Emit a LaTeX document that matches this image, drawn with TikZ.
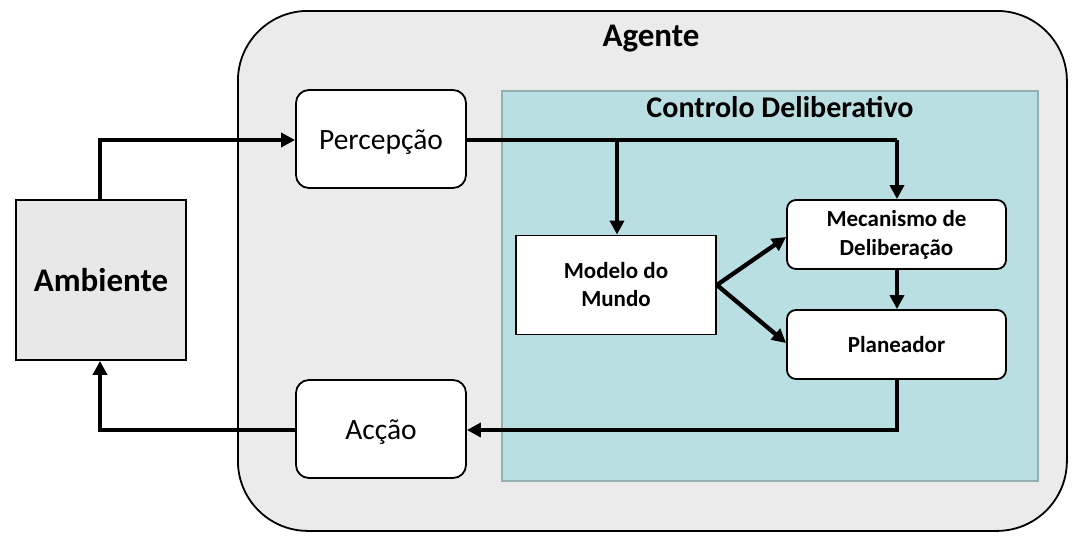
\documentclass[tikz,border=0pt]{standalone}
\usepackage{fontspec}
\setmainfont{Carlito}
\usetikzlibrary{arrows.meta,positioning}
\definecolor{agentgray}{HTML}{EBEBEB}
\definecolor{ambgray}{HTML}{E8E8E8}
\definecolor{ctrlfill}{HTML}{B9DFE3}
\definecolor{ctrlborder}{HTML}{93AFB2}
\tikzset{
  conn/.style={line width=4.3pt, -{Triangle[length=14pt,width=14pt]}},
  connplain/.style={line width=4.3pt},
  whitebox/.style={draw=black, line width=1.8pt, fill=white, rounded corners=13pt, align=center},
  smallbox/.style={draw=black, line width=1.8pt, fill=white, rounded corners=9pt, align=center, font=\fontsize{23}{30}\selectfont\bfseries},
}
\begin{document}
\begin{tikzpicture}[x=1pt,y=-1pt]
\useasboundingbox (0,0) rectangle (1077,541);
% Agente
\node[draw=black, line width=1.8pt, fill=agentgray, rounded corners=70pt, minimum width=829pt, minimum height=520pt, anchor=north west, inner sep=0pt] (agente) at (237,10) {};
\node[font=\fontsize{33}{36}\selectfont\bfseries] (agentelbl) at (651,39) {Agente};
% Controlo
\node[draw=ctrlborder, line width=1.5pt, fill=ctrlfill, minimum width=536pt, minimum height=390pt, anchor=north west, inner sep=0pt] (ctrl) at (501,90) {};
\node[font=\fontsize{30}{34}\selectfont\bfseries] (ctrllbl) at (780,107) {Controlo Deliberativo};
% Ambiente
\node[draw=black, line width=1.8pt, fill=ambgray, minimum width=170pt, minimum height=160pt, inner sep=0pt, font=\fontsize{33}{36}\selectfont\bfseries] (amb) at (101,280) {Ambiente};
% Percepcao / Accao
\node[whitebox, minimum width=170pt, minimum height=98pt, inner sep=0pt, font=\fontsize{29.5}{34}\selectfont] (perc) at (381,139) {};
\node[font=\fontsize{29.5}{34}\selectfont] (perclbl) at (381,142) {Percepção};
\node[whitebox, minimum width=170pt, minimum height=98pt, inner sep=0pt] (acc) at (381,429) {};
\node[font=\fontsize{29.5}{34}\selectfont] (acclbl) at (381,432) {Acção};
% Modelo
\node[draw=black, line width=1.8pt, fill=white, minimum width=200pt, minimum height=99pt, inner sep=0pt, align=center, font=\fontsize{23}{28}\selectfont\bfseries] (modelo) at (616,285) {Modelo do\\Mundo};
% Mecanismo, Planeador
\node[smallbox, minimum width=219pt, minimum height=69pt, inner sep=0pt, font=\fontsize{23}{29}\selectfont\bfseries] (mec) at (896.5,234.5) {Mecanismo de\\Deliberação};
\node[smallbox, minimum width=219pt, minimum height=69pt, inner sep=0pt] (plan) at (896.5,344.5) {Planeador};
% coordinates
\coordinate (c1) at (100,140);
\coordinate (c2) at (617,140);
\coordinate (c3) at (897,140);
\coordinate (c4) at (897,430);
\coordinate (c5) at (100,430);
% connectors
\draw[conn] (amb.north -| c1) -- (c1) -- (perc.west |- c1);
\draw[connplain] (perc.east |- c1) -- (c3);
\draw[conn] (c3) -- (mec.north -| c3);
\draw[conn] (c2) -- (modelo.north -| c2);
\draw[conn] (modelo.east) -- (mec.west |- 0,237);
\draw[conn] (modelo.east) -- (plan.west |- 0,343);
\draw[conn] (mec.south -| c3) -- (plan.north -| c3);
\draw[conn] (plan.south -| c4) -- (c4) -- (acc.east |- c4);
\draw[conn] (acc.west |- c5) -- (c5) -- (amb.south -| c5);
\end{tikzpicture}
\end{document}
